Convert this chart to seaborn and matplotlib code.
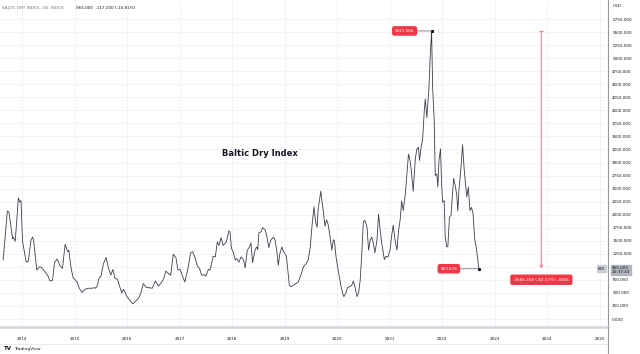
import numpy as np
import pandas as pd
import seaborn as sns
import matplotlib.pyplot as plt
from matplotlib.lines import Line2D

### weekly BDI closes (decimal year, index value)
years = [2013.64, 2013.72, 2013.75, 2013.82, 2013.83, 2013.87, 2013.93, 2013.96, 2013.98,
         2014.01, 2014.08, 2014.12, 2014.17, 2014.20, 2014.22, 2014.28, 2014.33, 2014.37, 2014.41,
         2014.44, 2014.47, 2014.50, 2014.53, 2014.58, 2014.62, 2014.67, 2014.72, 2014.77, 2014.82,
         2014.87, 2014.89, 2014.93, 2014.97,
         2015.02, 2015.05, 2015.09, 2015.14, 2015.20, 2015.26, 2015.33, 2015.38, 2015.40, 2015.43,
         2015.47, 2015.50, 2015.55, 2015.60, 2015.64, 2015.69, 2015.73, 2015.77, 2015.82, 2015.85,
         2015.90, 2015.93, 2015.96, 2015.99,
         2016.06, 2016.11, 2016.15, 2016.22, 2016.26, 2016.31, 2016.36, 2016.42, 2016.48, 2016.54,
         2016.60, 2016.66, 2016.70, 2016.74, 2016.79, 2016.83, 2016.88, 2016.93, 2016.97,
         2017.01, 2017.05, 2017.10, 2017.16, 2017.21, 2017.25, 2017.29, 2017.34, 2017.38, 2017.42,
         2017.47, 2017.50, 2017.55, 2017.58, 2017.64, 2017.68, 2017.72, 2017.75, 2017.79, 2017.83,
         2017.89, 2017.94, 2017.96, 2017.99,
         2018.02, 2018.06, 2018.09, 2018.13, 2018.17, 2018.22, 2018.25, 2018.29, 2018.33, 2018.36,
         2018.39, 2018.44, 2018.47, 2018.49, 2018.51, 2018.55, 2018.58, 2018.63, 2018.66, 2018.70,
         2018.74, 2018.79, 2018.82, 2018.85, 2018.88, 2018.91, 2018.95, 2018.98,
         2019.03, 2019.05, 2019.09, 2019.12, 2019.17, 2019.22, 2019.26, 2019.31, 2019.36, 2019.41,
         2019.45, 2019.49, 2019.52, 2019.56, 2019.59, 2019.62, 2019.64, 2019.67, 2019.69, 2019.71,
         2019.74, 2019.77, 2019.80, 2019.83, 2019.87, 2019.90, 2019.93, 2019.95, 2019.98,
         2020.02, 2020.07, 2020.11, 2020.13, 2020.17, 2020.20, 2020.25, 2020.28, 2020.31, 2020.34,
         2020.38, 2020.41, 2020.44, 2020.47, 2020.50, 2020.53, 2020.57, 2020.60, 2020.63, 2020.66,
         2020.69, 2020.72, 2020.76, 2020.79, 2020.82, 2020.85, 2020.90, 2020.93, 2020.97,
         2021.01, 2021.04, 2021.07, 2021.10, 2021.14, 2021.17, 2021.20, 2021.23, 2021.26, 2021.30,
         2021.33, 2021.36, 2021.39, 2021.42, 2021.45, 2021.49, 2021.52, 2021.55, 2021.57, 2021.60,
         2021.63, 2021.66, 2021.68, 2021.71, 2021.75, 2021.77, 2021.80, 2021.82, 2021.85, 2021.87,
         2021.90, 2021.92, 2021.94, 2021.97, 2021.99,
         2022.01, 2022.04, 2022.06, 2022.09, 2022.11, 2022.14, 2022.17, 2022.19, 2022.22, 2022.25,
         2022.28, 2022.30, 2022.32, 2022.36, 2022.39, 2022.42, 2022.44, 2022.47, 2022.50, 2022.53,
         2022.56, 2022.59, 2022.62, 2022.65, 2022.70]

bdi = [1130, 2070, 2050, 1540, 1570, 1490, 2320, 2240, 2270,
       1480, 1090, 1110, 1510, 1570, 1510, 940, 1000, 990, 940,
       900, 860, 810, 730, 740, 1090, 1150, 1030, 970, 1430,
       1290, 1320, 1000, 800,
       740, 710, 590, 510, 570, 590, 590, 600, 590, 630,
       800, 810, 1060, 1180, 1000, 840, 950, 780, 760, 650,
       500, 570, 520, 440,
       350, 290, 330, 400, 490, 680, 610, 600, 590, 730,
       630, 710, 780, 920, 870, 840, 1240, 1180, 940,
       950, 840, 710, 970, 1270, 1290, 1190, 1010, 970, 840,
       850, 820, 950, 940, 1200, 1190, 1480, 1410, 1560, 1410,
       1480, 1690, 1670, 1350,
       1290, 1130, 1160, 1090, 1190, 1130, 980, 1320, 1380, 1460,
       1080, 1330, 1380, 1330, 1650, 1670, 1750, 1710, 1600, 1370,
       1520, 1570, 1510, 1320, 1030, 1250, 1380, 1290,
       1220, 1060, 650, 620, 650, 680, 710, 840, 1000, 1060,
       1130, 1380, 1760, 2150, 1860, 1760, 2110, 2310, 2450, 2270,
       2050, 1780, 1900, 1810, 1560, 1320, 1520, 1500, 1190,
       940, 650, 480, 430, 500, 610, 620, 650, 730, 620,
       430, 500, 740, 1250, 1860, 1890, 1760, 1320, 1510, 1570,
       1460, 1270, 1510, 2010, 1710, 1460, 1140, 1200, 1190,
       1330, 1600, 1800, 1540, 1320, 1690, 1890, 2260, 2080, 2400,
       2780, 3160, 3040, 2780, 2450, 3070, 3260, 3290, 3040, 3300,
       3450, 3980, 4220, 3860, 4440, 4950, 5521.966, 4440, 3800, 2750,
       2780, 2530, 3040, 3260, 2590,
       2240, 2270, 1570, 1380, 1390, 1950, 1990, 2270, 2700, 2560,
       2370, 2070, 2460, 2910, 3340, 2880, 2650, 2340, 2530, 2080,
       2140, 2020, 1540, 1380, 965]

### labels / drawing tools on the chart
peak_label = 5521.966
last_label = 963.676
range_year = 2023.89
range_text = "-4566.358 (-82.57%) -4566"
header_name = "BALTIC DRY INDEX, 1W, INDEX"
header_vals = "965.000  -117.000 (-10.81%)"
last_close = 965.0
bar_clock = "23:37:43"
year_ticks = list(range(2014, 2026))
price_ticks = np.arange(0, 5751, 250)

df = pd.DataFrame({"year": years, "bdi": bdi})

sns.set_style("white")
plt.rcParams["font.family"] = ["DejaVu Sans"]

red = "#f23645"
txt = "#131722"
axis_gray = "#9598a1"

fig = plt.figure(figsize=(6.4, 3.54), dpi=100)
ax = fig.add_axes([0, 1 - 327 / 354, 608 / 640, 327 / 354])

sns.lineplot(data=df, x="year", y="bdi", ax=ax, color="#3a3e49", lw=0.6)

ax.set_xlim(2013.58, 2025.16)
ax.set_ylim(-153, 6115)
ax.set_xticks(year_ticks)
ax.set_xticklabels([str(y) for y in year_ticks])
ax.yaxis.tick_right()
ax.set_yticks(price_ticks)
ax.set_yticklabels([f"{v:.3f}" for v in price_ticks])
ax.tick_params(axis="both", length=0, labelsize=3, labelcolor=txt)
ax.tick_params(axis="x", pad=7)
ax.tick_params(axis="y", pad=3)
ax.grid(True, color="#eef1f8", lw=0.6)
ax.set_xlabel("")
ax.set_ylabel("")
for s in ["top", "left"]:
    ax.spines[s].set_visible(False)
ax.spines["right"].set_color(axis_gray)
ax.spines["right"].set_linewidth(0.8)
ax.spines["bottom"].set_color("#d1d4dc")
ax.spines["bottom"].set_linewidth(1.8)

### peak / last markers with red price tags
i_pk = df["bdi"].idxmax()
pk_x = df["year"][i_pk]
end_x = df["year"].iloc[-1]
ax.plot([pk_x, end_x], [peak_label, last_label], ls="none", marker="o", ms=1.3, color="black")

tag = dict(boxstyle="round,pad=0.5,rounding_size=0.4", fc=red, ec=red)
ax.annotate(f"{peak_label:.3f}", xy=(pk_x, peak_label), xytext=(-27, 0),
            textcoords="offset pixels", ha="center", va="center", fontsize=3, color="white",
            bbox=tag, arrowprops=dict(arrowstyle="-", color="#787b86", lw=0.6, shrinkA=0, shrinkB=0))
ax.annotate(f"{last_label:.3f}", xy=(end_x, last_label), xytext=(-30, 0),
            textcoords="offset pixels", ha="center", va="center", fontsize=3, color="white",
            bbox=tag, arrowprops=dict(arrowstyle="-", color="#787b86", lw=0.6, shrinkA=0, shrinkB=0))

### price range tool
ax.annotate("", xy=(range_year, last_label), xytext=(range_year, peak_label),
            arrowprops=dict(arrowstyle="-|>", color="#f7828c", lw=0.8, mutation_scale=4,
                            shrinkA=0, shrinkB=0))
ax.plot(range_year, peak_label, marker="_", ms=3, color="#f7828c", mew=0.8)
ax.annotate(range_text, xy=(range_year, last_label), xytext=(0, -11),
            textcoords="offset pixels", ha="center", va="center", fontsize=3, color="white",
            bbox=dict(boxstyle="round,pad=0.6,rounding_size=0.3", fc=red, ec=red))

### last price tag on the price scale; on the chart it hides the 1000 label
ax.annotate(f"{last_close:.3f}\n{bar_clock}", xy=(1, last_close), xycoords=("axes fraction", "data"),
            xytext=(4, -1), textcoords="offset pixels", ha="left", va="center", fontsize=3,
            color=txt, linespacing=1.05, zorder=5,
            bbox=dict(boxstyle="square,pad=0.25", fc="#b2b5be", ec="#b2b5be"))
ax.annotate("BDI", xy=(1, last_close), xycoords=("axes fraction", "data"),
            xytext=(-3, 0), textcoords="offset pixels", ha="right", va="center", fontsize=3,
            color=txt, bbox=dict(boxstyle="square,pad=0.3", fc="#c9ccd3", ec="#c9ccd3"))
for lbl in ax.get_yticklabels():
    if lbl.get_text() == "1000.000":
        lbl.set_visible(False)

### texts around the chart
fig.text(260 / 640, 1 - 154 / 354, "Baltic Dry Index", fontsize=6, fontweight="bold",
         color=txt, ha="center", va="center")
fig.text(2 / 640, 1 - 8 / 354, header_name, fontsize=3, color="#787b86", va="center")
fig.text(76 / 640, 1 - 8 / 354, header_vals, fontsize=3, color=txt, va="center")
fig.text(613 / 640, 1 - 6 / 354, "USD", fontsize=3, color=txt, va="center")
fig.text(4 / 640, 1 - 349 / 354, "TV", fontsize=4, fontweight="bold", color=txt, va="center")
fig.text(14 / 640, 1 - 349 / 354, "TradingView", fontsize=3.2, color=txt, va="center")

fig.add_artist(Line2D([0, 608 / 640], [1 - 344 / 354] * 2, color="#e0e3eb", lw=0.5))
fig.add_artist(Line2D([608 / 640] * 2, [0, 1 - 327 / 354], color=axis_gray, lw=0.8))

fig.savefig("out.png", dpi=100)
